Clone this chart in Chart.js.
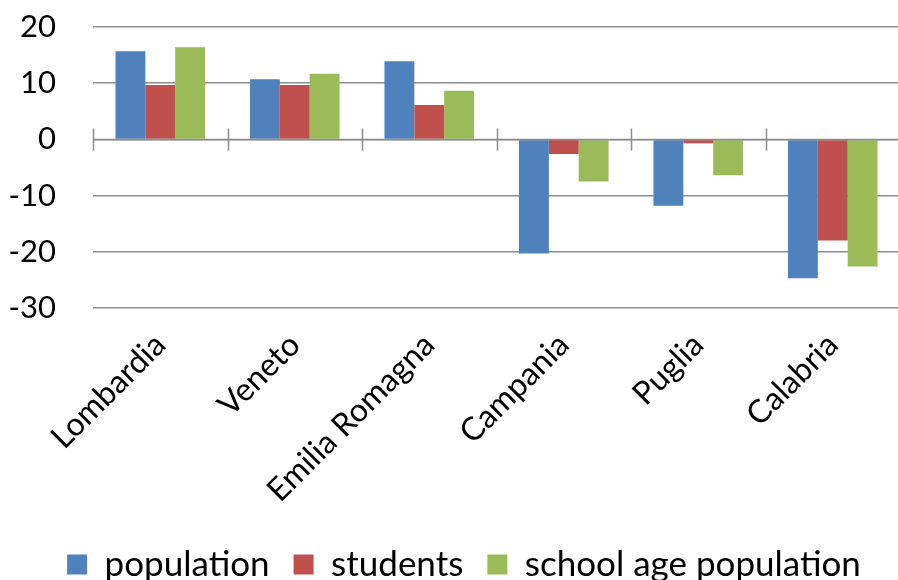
<!DOCTYPE html>
<html>
<head>
<meta charset="utf-8">
<script src="https://cdn.jsdelivr.net/npm/chart.js@4.4.1/dist/chart.umd.min.js"></script>
<style>
  html, body { margin: 0; padding: 0; background: #ffffff; overflow: hidden; width: 898px; height: 580px; }
  #wrap { position: relative; width: 900px; height: 592px; }
</style>
</head>
<body>
<div id="wrap"><canvas id="chart" width="900" height="592"></canvas></div>
<script>
// Percentage change by region
const regions = ['Lombardia', 'Veneto', 'Emilia Romagna', 'Campania', 'Puglia', 'Calabria'];
const population = [15.7, 10.7, 13.9, -20.3, -11.8, -24.7];
const students = [9.7, 9.7, 6.1, -2.6, -0.7, -18.0];
const schoolAgePopulation = [16.4, 11.7, 8.65, -7.5, -6.4, -22.6];
const yMin = -30;
const yMax = 20;
const yStep = 10;

const gridColor = '#8c8c8c';
const fontFamily = 'Lato, "Open Sans", sans-serif';

// Zero line with tick marks at each category boundary
const zeroLineTicks = {
  id: 'zeroLineTicks',
  afterDatasetsDraw(chart) {
    const { ctx, scales: { x, y } } = chart;
    const y0 = y.getPixelForValue(0);
    ctx.save();
    ctx.strokeStyle = gridColor;
    ctx.lineWidth = 1.5;
    ctx.beginPath();
    ctx.moveTo(chart.chartArea.left, y0);
    ctx.lineTo(chart.chartArea.right, y0);
    for (let i = 0; i <= regions.length; i++) {
      const px = Math.round(x.getPixelForValue(i - 0.5)) + 0.5;
      ctx.moveTo(px, y0 - 11);
      ctx.lineTo(px, y0 + 11);
    }
    ctx.stroke();
    ctx.restore();
  }
};

// Nudge the legend row a little to the right of centre
const legendShift = {
  id: 'legendShift',
  afterLayout(chart) {
    const lg = chart.legend;
    if (lg) { lg.left += 14; lg.right += 14; }
  }
};

new Chart(document.getElementById('chart'), {
  type: 'bar',
  data: {
    labels: regions,
    datasets: [
      { label: 'population', data: population, backgroundColor: '#4f81bd' },
      { label: 'students', data: students, backgroundColor: '#c0504d' },
      { label: 'school age population', data: schoolAgePopulation, backgroundColor: '#9bbb59' }
    ]
  },
  options: {
    responsive: false,
    animation: false,
    devicePixelRatio: 1,
    datasets: { bar: { categoryPercentage: 0.666, barPercentage: 1.0 } },
    layout: { padding: { top: 27, left: 0, right: 0, bottom: 0 } },
    scales: {
      x: {
        grid: { display: false },
        border: { display: false },
        ticks: {
          color: '#000000',
          font: { family: fontFamily, size: 32 },
          minRotation: 45,
          maxRotation: 45,
          padding: 10,
          autoSkip: false
        },
        afterFit(scale) { scale.height = 215; }
      },
      y: {
        min: yMin,
        max: yMax,
        border: { display: false },
        grid: { color: gridColor, lineWidth: 1.5, drawTicks: false },
        ticks: {
          stepSize: yStep,
          color: '#000000',
          font: { family: fontFamily, size: 31 },
          padding: 37
        },
        afterFit(scale) {
          scale.width = 93;
          scale.paddingTop = 0;
          scale.paddingBottom = 0;
        }
      }
    },
    plugins: {
      legend: {
        position: 'bottom',
        labels: {
          color: '#000000',
          font: { family: fontFamily, size: 35 },
          boxWidth: 20,
          boxHeight: 20,
          padding: 24
        }
      },
      tooltip: { enabled: false }
    }
  },
  plugins: [zeroLineTicks, legendShift]
});
</script>
</body>
</html>
